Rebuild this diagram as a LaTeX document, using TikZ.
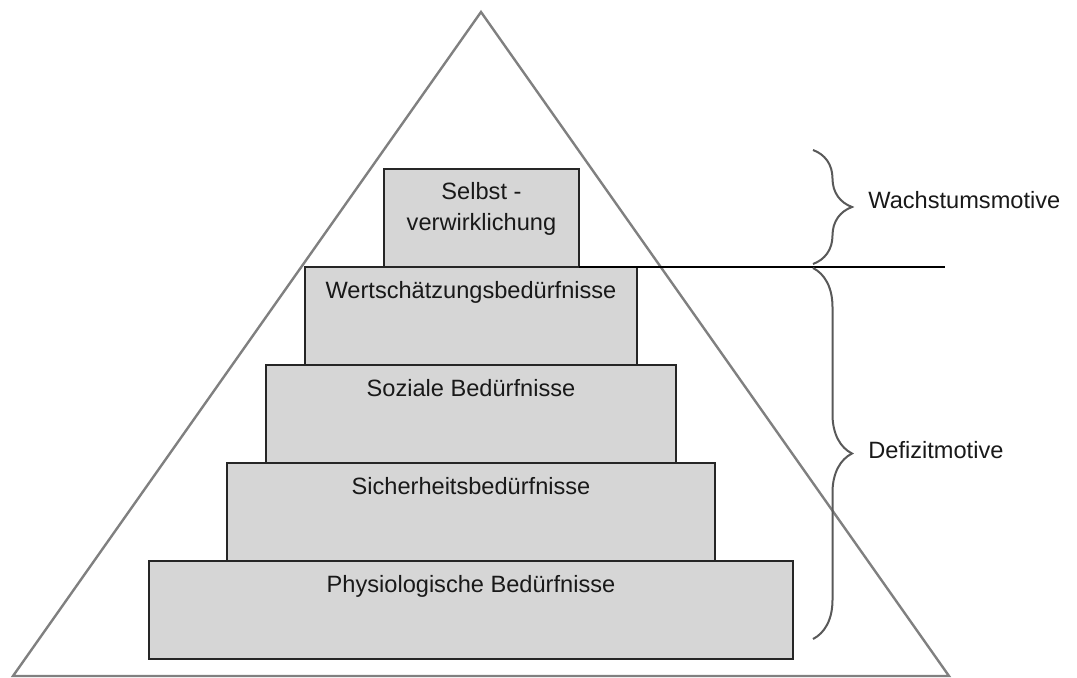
\documentclass[tikz,border=0pt]{standalone}
\usepackage{fontspec}
\setmainfont{Liberation Sans}
\usetikzlibrary{positioning, decorations.pathreplacing}

\begin{document}
\begin{tikzpicture}[x=0.5pt, y=-0.5pt,
    every node/.style={font=\fontsize{11.8}{15.5}\selectfont, text=black!90, inner sep=0pt},
    stufe/.style={draw=black!85, line width=1.4pt, fill=black!16, outer sep=0pt, minimum height=49pt},
    klammer/.style={decorate, decoration={brace, amplitude=19.5pt}, draw=black!65, line width=1pt}]

    % === Frame (pixel grid of the reference) ===
    \useasboundingbox (0,0) rectangle (1077,678);

    % === Pyramid outline ===
    \coordinate (spitze) at (481,12);
    \coordinate (links) at (13,676);
    \coordinate (rechts) at (949,676);
    \draw[black!50, line width=1.2pt] (links) -- (spitze) -- (rechts) -- cycle;

    % === Steps, bottom to top ===
    \node[stufe, minimum width=322pt] (phys) at (471,610) {};
    \node[stufe, minimum width=244pt, above=0pt of phys] (sicher) {};
    \node[stufe, minimum width=205pt, above=0pt of sicher] (sozial) {};
    \node[stufe, minimum width=166pt, above=0pt of sozial] (wert) {};
    \node[stufe, minimum width=97.5pt, above=0pt of wert, xshift=5.25pt] (selbst) {};

    % === Step labels ===
    \node[anchor=base] (physL) at ([yshift=-16pt]phys.north) {Physiologische Bedürfnisse};
    \node[anchor=base] (sicherL) at ([yshift=-16pt]sicher.north) {Sicherheitsbedürfnisse};
    \node[anchor=base] (sozialL) at ([yshift=-16pt]sozial.north) {Soziale Bedürfnisse};
    \node[anchor=base] (wertL) at ([yshift=-16pt]wert.north) {Wertschätzungsbedürfnisse};
    \node[anchor=north, align=center] (selbstL) at ([yshift=-6.5pt]selbst.north)
    {Selbst -\\verwirklichung};

    % === Divider between the two groups ===
    \draw[black, line width=0.8pt] (selbst.south east) -- ++(366,0) coordinate (trennR);

    % === Braces ===
    \coordinate (wOben) at (813,150);
    \coordinate (wUnten) at (813,264);
    \coordinate (dOben) at (813,268);
    \coordinate (dUnten) at (813,639);
    \draw[klammer] (wOben) -- (wUnten);
    \draw[klammer] (dOben) -- (dUnten);

    % === Group labels ===
    \node[anchor=base west] (wachstum) at (868,209) {Wachstumsmotive};
    \node[anchor=base west] (defizit) at (868,459) {Defizitmotive};

\end{tikzpicture}
\end{document}
